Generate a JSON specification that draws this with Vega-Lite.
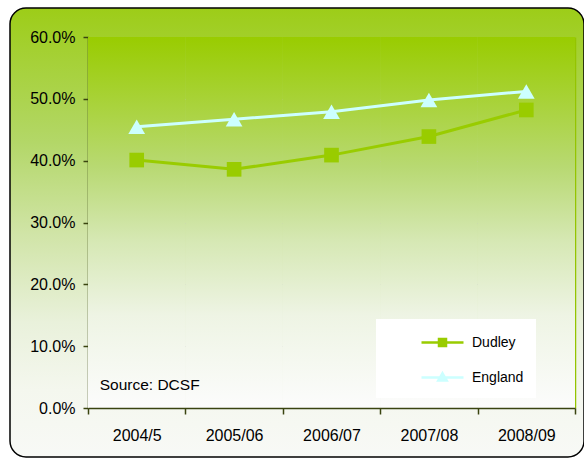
{
  "$schema": "https://vega.github.io/schema/vega-lite/v6.json",
  "width": 574,
  "height": 449,
  "autosize": {"type": "none"},
  "padding": {"left": 10, "top": 8, "right": 0, "bottom": 2},
  "background": "white",
  "config": {
    "font": "Liberation Sans",
    "view": {
      "fill": {"gradient": "linear", "x1": 0, "y1": 0, "x2": 0, "y2": 1,
        "stops": [
          {"offset": 0, "color": "#9dcd18"},
          {"offset": 0.3, "color": "#b3d768"},
          {"offset": 0.5, "color": "#d0e4a6"},
          {"offset": 0.7, "color": "#e9f1db"},
          {"offset": 0.85, "color": "#f4f7ee"},
          {"offset": 1, "color": "#f8f9f6"}
        ]},
      "stroke": "#000000",
      "strokeWidth": 1.5,
      "cornerRadius": 16
    }
  },
  "data": {
    "values": [
      {"year": "2004/5", "series": "Dudley", "value": 0.401},
      {"year": "2005/06", "series": "Dudley", "value": 0.386},
      {"year": "2006/07", "series": "Dudley", "value": 0.409},
      {"year": "2007/08", "series": "Dudley", "value": 0.439},
      {"year": "2008/09", "series": "Dudley", "value": 0.482},
      {"year": "2004/5", "series": "England", "value": 0.455},
      {"year": "2005/06", "series": "England", "value": 0.467},
      {"year": "2006/07", "series": "England", "value": 0.479},
      {"year": "2007/08", "series": "England", "value": 0.498},
      {"year": "2008/09", "series": "England", "value": 0.512}
    ]
  },
  "resolve": {"axis": {"y": "independent"}},
  "layer": [
    {
      "transform": [{"filter": "datum.series === 'Dudley'"}],
      "mark": {"type": "rect", "strokeWidth": 0,
        "fill": {"gradient": "linear", "x1": 0, "y1": 0, "x2": 0, "y2": 1,
          "stops": [
            {"offset": 0, "color": "#99cc00"},
            {"offset": 0.35, "color": "#b8d972"},
            {"offset": 0.55, "color": "#d6e8b4"},
            {"offset": 0.75, "color": "#eef4e4"},
            {"offset": 1, "color": "#fcfcfc"}
          ]}},
      "encoding": {
        "x": {"field": "year", "type": "nominal", "sort": null,
          "scale": {"type": "band", "range": [78, 565], "paddingInner": 0, "paddingOuter": 0},
          "axis": {"orient": "bottom", "offset": -49, "title": null, "labelAngle": 0,
            "tickBand": "extent", "tickSize": 6, "labelPadding": 13,
            "labelFontSize": 16, "labelColor": "#000000", "labelFont": "Liberation Sans",
            "domainColor": "#3a4410", "domainWidth": 1.5, "tickColor": "#3a4410", "tickWidth": 1.5,
            "grid": false}},
        "y": {"datum": 0.6, "type": "quantitative",
          "scale": {"domain": [0, 0.6], "range": [400, 29], "nice": false, "zero": false},
          "axis": {"orient": "left", "offset": -78, "title": null, "format": ".1%",
            "values": [0, 0.1, 0.2, 0.3, 0.4, 0.5, 0.6],
            "labelFontSize": 16, "labelColor": "#000000", "labelFont": "Liberation Sans",
            "labelPadding": 8, "tickSize": 5, "tickColor": "#3a4410", "tickWidth": 1.5,
            "domainColor": "#3a4410", "domainWidth": 1.5,
            "grid": true, "gridColor": "#c4c4c0", "gridWidth": 1,
            "gridOpacity": {"condition": {"test": "datum.value >= 0.6 || datum.value <= 0", "value": 0}, "value": 1}}},
        "y2": {"datum": 0}
      }
    },
    {
      "mark": {"type": "line", "strokeWidth": 3},
      "encoding": {
        "x": {"field": "year", "type": "nominal", "sort": null},
        "y": {"field": "value", "type": "quantitative",
          "axis": {"orient": "right", "offset": -9, "title": null, "labels": false, "ticks": false,
            "grid": false, "domainColor": "#94c400", "domainWidth": 1.5}},
        "color": {"field": "series", "type": "nominal",
          "scale": {"domain": ["Dudley", "England"], "range": ["#99cc00", "#ccffff"]},
          "legend": {
            "title": null, "orient": "none", "legendX": 366, "legendY": 311,
            "fillColor": "#ffffff", "padding": 12,
            "symbolSize": 400, "symbolStrokeWidth": 2.5, "symbolOffset": 43,
            "labelOffset": 18, "labelFontSize": 14, "labelFont": "Liberation Sans", "labelColor": "#000000",
            "rowPadding": 15,
            "encode": {"symbols": {"update": {
              "shape": {"signal": "datum.value === 'Dudley' ? 'M-2.1,0H2.1M-0.35,-0.35H0.35V0.35H-0.35Z' : 'M-2.1,0H2.1M0,-0.42L0.42,0.3H-0.42Z'"},
              "fill": {"signal": "datum.value === 'Dudley' ? '#99cc00' : '#ccffff'"},
              "stroke": {"signal": "datum.value === 'Dudley' ? '#99cc00' : '#ccffff'"},
              "opacity": {"value": 1},
              "fillOpacity": {"value": 1},
              "strokeOpacity": {"value": 1}
            }}}
          }}
      }
    },
    {
      "transform": [{"filter": "datum.series === 'Dudley'"}],
      "mark": {"type": "point", "shape": "square", "size": 215, "filled": true, "opacity": 1, "strokeWidth": 0, "color": "#99cc00"},
      "encoding": {
        "x": {"field": "year", "type": "nominal", "sort": null},
        "y": {"field": "value", "type": "quantitative", "axis": null}
      }
    },
    {
      "transform": [{"filter": "datum.series === 'England'"}],
      "mark": {"type": "point", "shape": "triangle-up", "size": 280, "filled": true, "opacity": 1, "strokeWidth": 0, "color": "#ccffff"},
      "encoding": {
        "x": {"field": "year", "type": "nominal", "sort": null},
        "y": {"field": "value", "type": "quantitative", "axis": null}
      }
    },
    {
      "data": {"values": [{"label": "Source: DCSF"}]},
      "mark": {"type": "text", "align": "left", "baseline": "alphabetic", "fontSize": 15.5, "font": "Liberation Sans", "color": "#000000", "dx": -37},
      "encoding": {
        "x": {"datum": "2004/5", "type": "nominal"},
        "y": {"datum": 0.029, "type": "quantitative", "axis": null},
        "text": {"field": "label", "type": "nominal"}
      }
    }
  ]
}
